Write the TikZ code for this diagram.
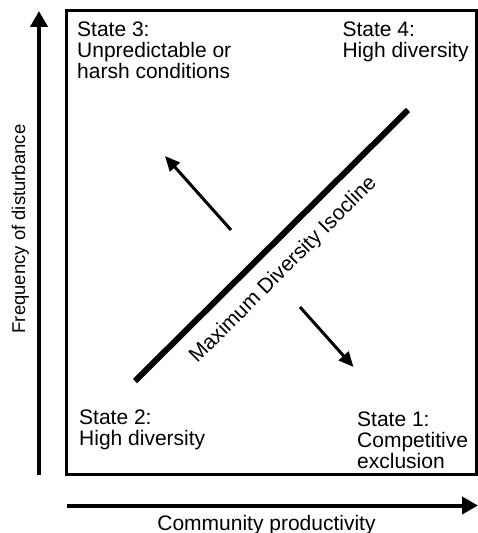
\documentclass[tikz,border=0pt]{standalone}
\usepackage{fontspec}
\setmainfont{Liberation Sans}
\usetikzlibrary{arrows.meta}
\begin{document}
\begin{tikzpicture}[x=1bp,y=-1bp,
  lbl/.style={font=\fontsize{21bp}{21bp}\selectfont, inner sep=0pt, align=left, anchor=north west},
  axislbl/.style={inner sep=0pt, anchor=base},
  axisline/.style={line width=4bp, -{Triangle[length=16bp,width=17bp]}},
  frame/.style={line width=3bp},
  isocline/.style={line width=6bp},
  shiftarrow/.style={line width=3bp, -{Triangle[length=15bp,width=13bp]}}
]
\useasboundingbox (0,0) rectangle (478,533);

% coordinates
\coordinate (yaxisS) at (39,475);
\coordinate (yaxisE) at (39,11);
\coordinate (xaxisS) at (66.5,505.5);
\coordinate (xaxisE) at (478,505.5);
\coordinate (isoA) at (135,381);
\coordinate (isoB) at (408,110);
\coordinate (upS) at (231,230);
\coordinate (upE) at (165,156);
\coordinate (dnS) at (300,307);
\coordinate (dnE) at (353.5,367);

% frame
\draw[frame] (66.5,11) rectangle (476,474.3);

% axes
\draw[axisline] (yaxisS) -- (yaxisE);
\draw[axisline] (xaxisS) -- (xaxisE);

% axis labels
\node[axislbl, rotate=90, font=\fontsize{18.5bp}{18.5bp}\selectfont] (ylab) at (25,229) {Frequency of disturbance};
\node[axislbl, font=\fontsize{21bp}{21bp}\selectfont] (xlab) at (266.5,530) {Community productivity};

% isocline
\draw[isocline] (isoA) -- (isoB);
\node[axislbl, rotate=45, font=\fontsize{21bp}{21bp}\selectfont] (isolab) at (287.4,273.9) {Maximum Diversity Isocline};

% shift arrows
\draw[shiftarrow] (upS) -- (upE);
\draw[shiftarrow] (dnS) -- (dnE);

% state labels
\node[lbl] (s3) at (77,21.5) {State 3:\\Unpredictable or\\harsh conditions};
\node[lbl] (s4) at (342.3,21.5) {State 4:\\High diversity};
\node[lbl] (s2) at (79,410) {State 2:\\High diversity};
\node[lbl] (s1) at (357,411.5) {State 1:\\Competitive\\exclusion};
\end{tikzpicture}
\end{document}
